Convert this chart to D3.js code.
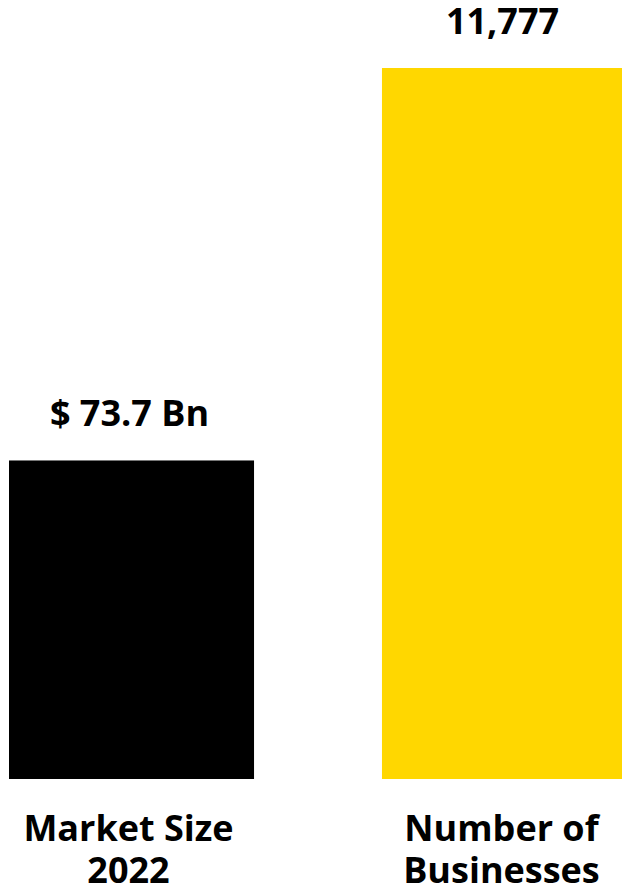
<!DOCTYPE html>
<html><head><meta charset="utf-8">
<script src="https://cdn.jsdelivr.net/npm/d3@7"></script>
<style>html,body{margin:0;padding:0;background:#fff;}</style>
</head><body>
<svg id="c" width="622" height="892"></svg>
<script>
const categories = [["Market Size", "2022"], ["Number of", "Businesses"]];
const valueLabels = ["$ 73.7 Bn", "11,777"];
// relative bar heights (index, tallest = 100) as drawn in the reference
const indexValues = [44.8, 100];
const colors = ["#000000", "#FFD700"];

const svg = d3.select("#c");
const x = d3.scaleBand().domain(d3.range(categories.length)).range([9, 627]).paddingInner(0.343).paddingOuter(0);
const y = d3.scaleLinear().domain([0, 100]).range([779, 68]);
const font = "'Open Sans', sans-serif";

svg.selectAll("rect.bar").data(indexValues).join("rect")
  .attr("x", (d,i) => x(i)).attr("width", x.bandwidth())
  .attr("y", d => y(d)).attr("height", d => y(0) - y(d))
  .attr("fill", (d,i) => colors[i]);

svg.selectAll("text.val").data(valueLabels).join("text")
  .attr("x", (d,i) => x(i) + x.bandwidth()/2 - 2)
  .attr("y", (d,i) => y(indexValues[i]) - 34)
  .attr("text-anchor", "middle").attr("font-family", font).attr("font-weight", 700)
  .attr("font-size", 36).attr("fill", "#000").text(d => d);

const cat = svg.selectAll("text.cat").data(categories).join("text")
  .attr("text-anchor", "middle").attr("font-family", font).attr("font-weight", 700)
  .attr("font-size", 36).attr("fill", "#000");
cat.each(function(d,i){
  const t = d3.select(this);
  d.forEach((line, j) => {
    t.append("tspan").attr("x", x(i) + x.bandwidth()/2 - 3).attr("y", 841 + j*42).text(line);
  });
});
</script>
</body></html>
